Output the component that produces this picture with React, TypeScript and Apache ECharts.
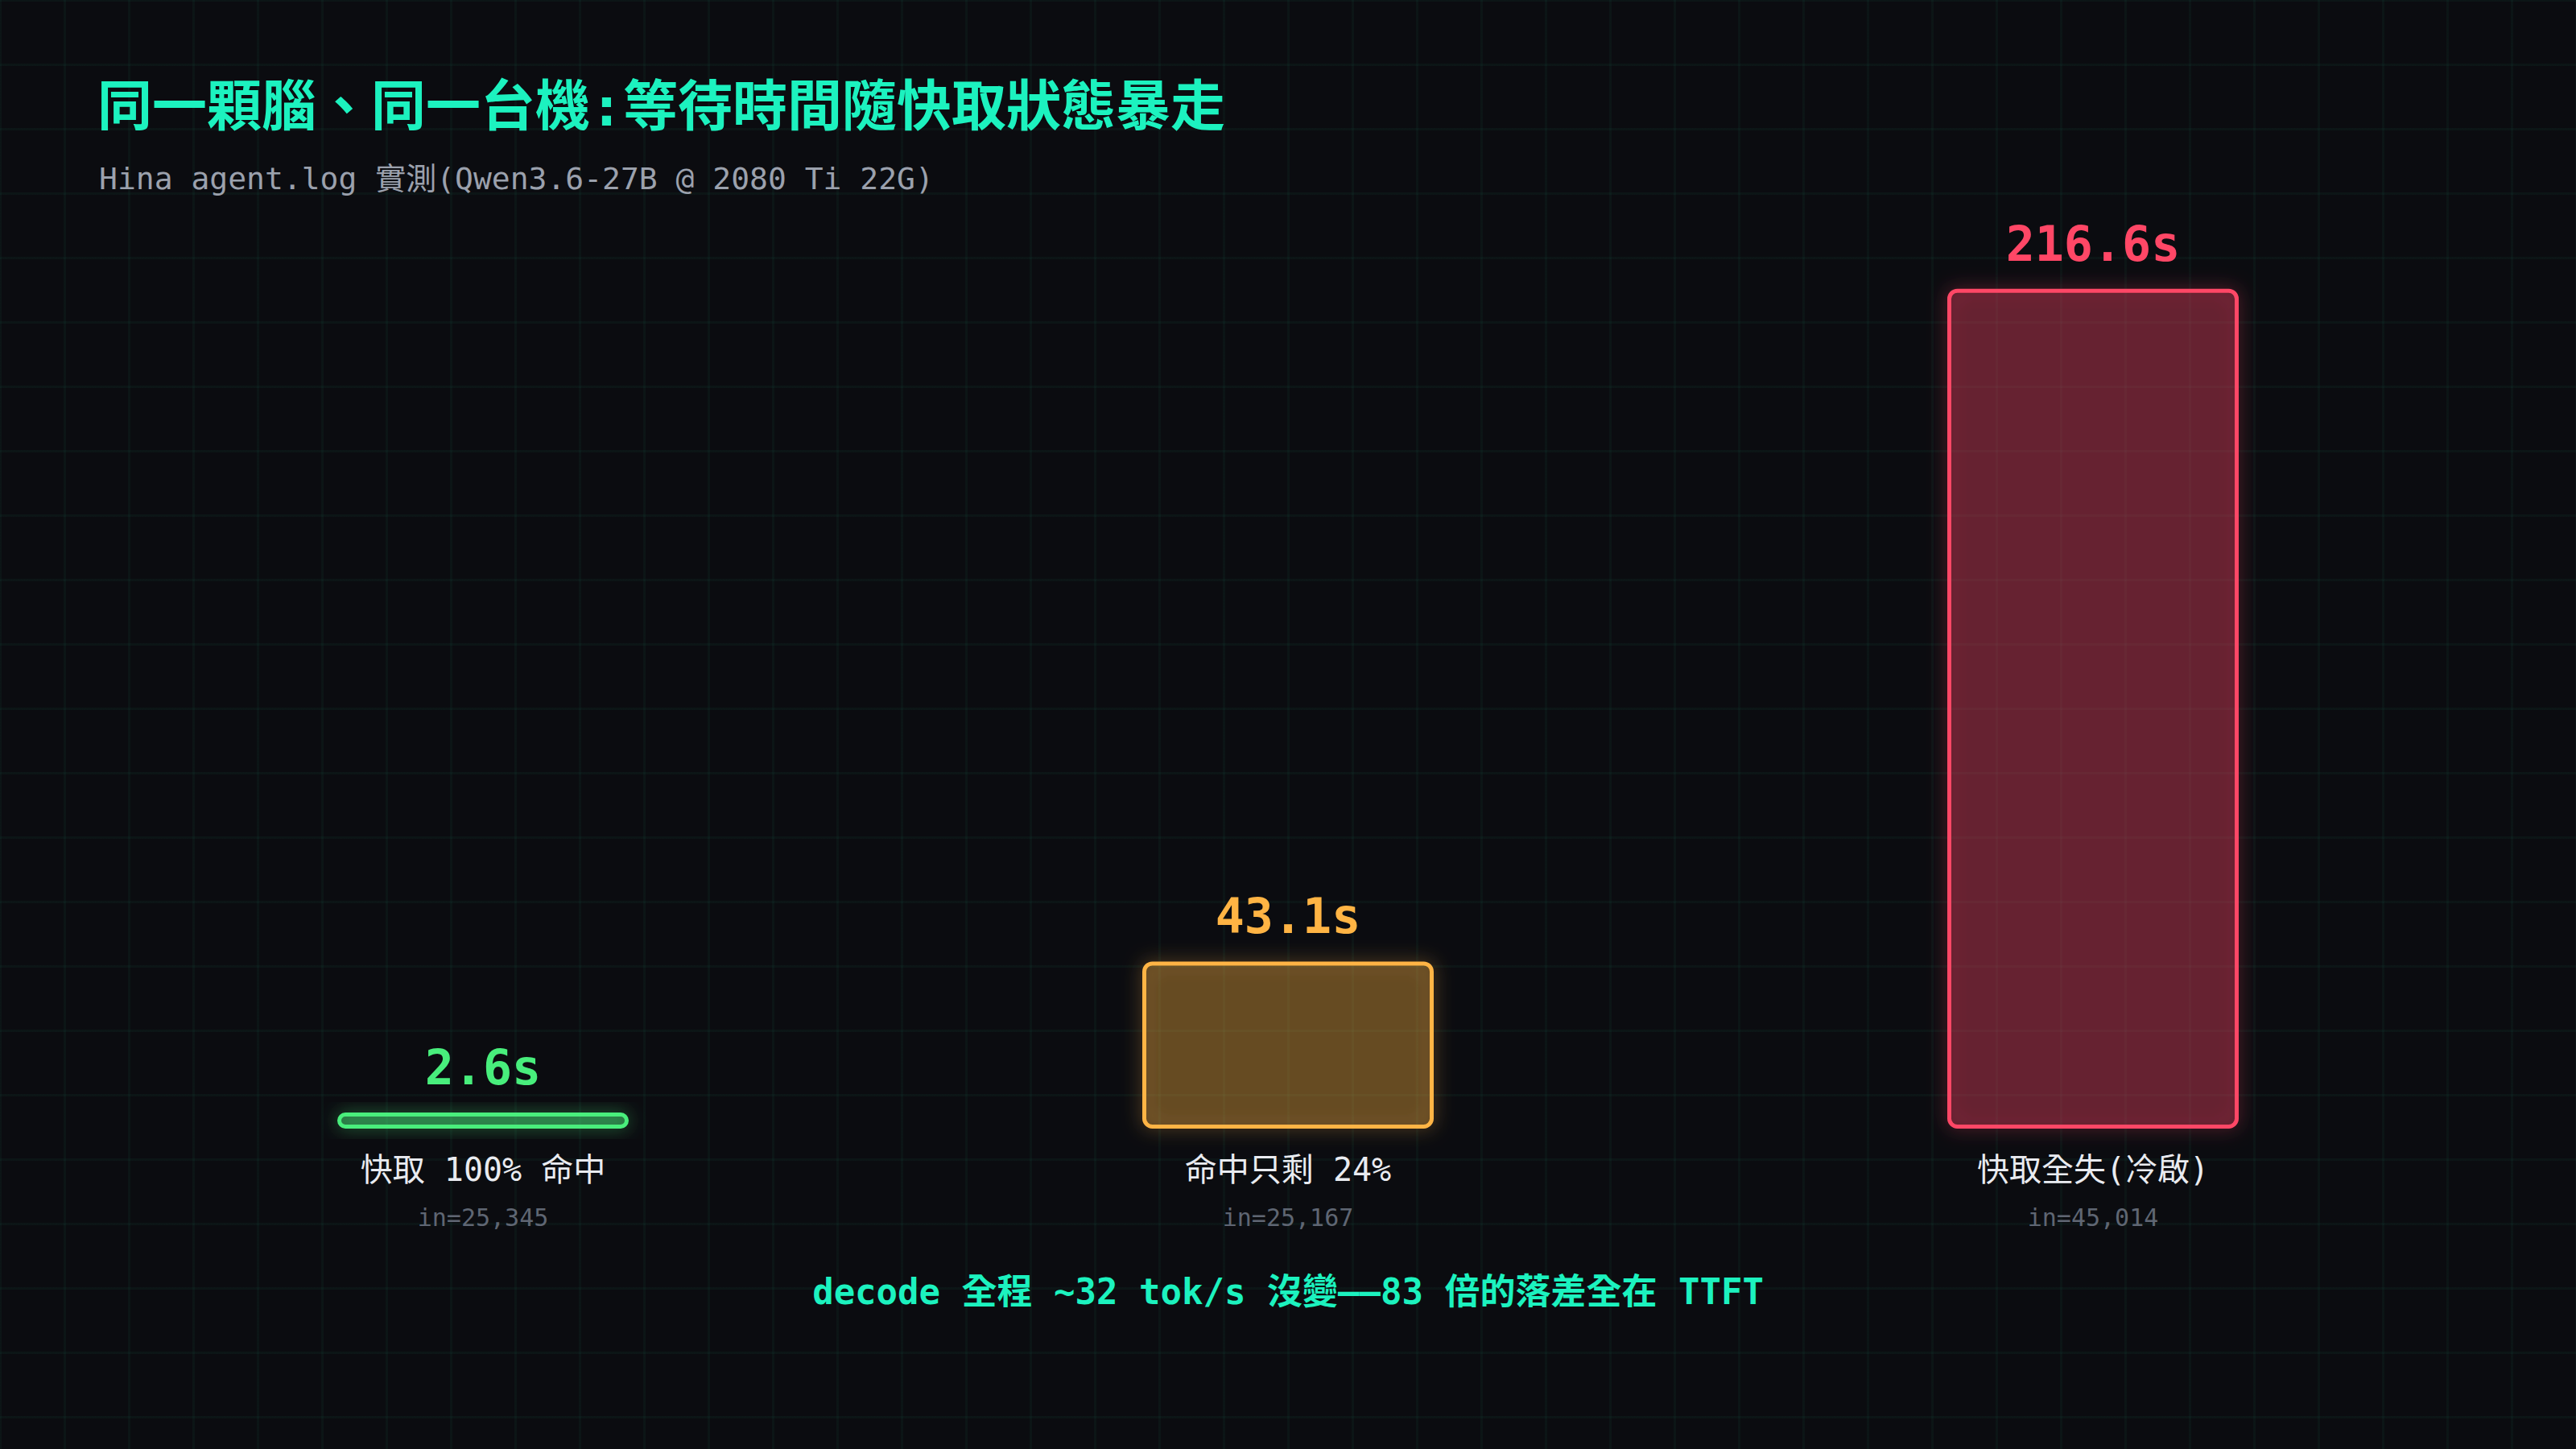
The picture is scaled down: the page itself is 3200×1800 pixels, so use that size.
import React, { useEffect, useRef } from 'react';
import * as echarts from 'echarts';

const categories = ['快取 100% 命中', '命中只剩 24%', '快取全失(冷啟)'];
const inputTokens = ['in=25,345', 'in=25,167', 'in=45,014'];
const ttftSeconds = [2.6, 43.1, 216.6];

const barColors = ['#48ee7c', '#ffb444', '#ff4766'];
const barFills = ['rgba(72,238,124,0.4)', 'rgba(255,180,68,0.27)', 'rgba(255,71,102,0.27)'];

const TITLE = '同一顆腦、同一台機:等待時間隨快取狀態暴走';
const SUBTITLE = 'Hina agent.log 實測(Qwen3.6-27B @ 2080 Ti 22G)';
const FOOTNOTE = 'decode 全程 ~32 tok/s 沒變——83 倍的落差全在 TTFT';

const FONT = '"DejaVu Sans Mono", "Noto Sans CJK TC", monospace';
const TEAL = '#1cf2bf';

const App: React.FC = () => {
  const chartRef = useRef<HTMLDivElement>(null);

  useEffect(() => {
    if (!chartRef.current) return;
    const chart = echarts.init(chartRef.current, undefined, { renderer: 'svg' });
    chart.setOption({
      animation: false,
      backgroundColor: 'transparent',
      title: [
        {
          text: TITLE,
          left: 116,
          top: 93,
          textStyle: { fontFamily: FONT, fontSize: 68, fontWeight: 'bold', color: TEAL },
        },
        {
          text: SUBTITLE,
          left: 118,
          top: 198,
          textStyle: { fontFamily: FONT, fontSize: 38, fontWeight: 'normal', color: '#9ba1ad' },
        },
      ],
      grid: { left: 100, right: 100, top: 246, bottom: 398 },
      xAxis: {
        type: 'category',
        data: categories,
        axisLine: { show: false },
        axisTick: { show: false },
        splitLine: { show: false },
        axisLabel: {
          margin: 23,
          formatter: (v: string, i: number) => `{a|${v}}\n{b|${inputTokens[i]}}`,
          rich: {
            a: { fontFamily: FONT, fontSize: 40, lineHeight: 56, color: '#e9ebf0' },
            b: { fontFamily: FONT, fontSize: 30, lineHeight: 62, color: '#5f6673' },
          },
        },
      },
      yAxis: {
        type: 'value',
        min: 0,
        max: 240,
        show: false,
        splitLine: { show: false },
      },
      series: [
        {
          type: 'bar',
          barWidth: 362,
          barMinHeight: 20,
          data: ttftSeconds.map((v, i) => ({
            value: v,
            itemStyle: {
              color: barFills[i],
              borderColor: barColors[i],
              borderWidth: 5,
              borderRadius: 10,
              shadowBlur: 22,
              shadowColor: barColors[i] + '80',
            },
            label: { color: barColors[i] },
          })),
          label: {
            show: true,
            position: 'top',
            distance: 26,
            fontFamily: FONT,
            fontSize: 60,
            fontWeight: 'bold',
            formatter: (p: any) => `${p.value}s`,
          },
        },
      ],
      graphic: [
        {
          type: 'text',
          x: 1600,
          y: 1604,
          style: {
            text: FOOTNOTE,
            fill: TEAL,
            font: `bold 44px ${FONT}`,
            textAlign: 'center',
            textVerticalAlign: 'middle',
          },
        },
      ],
    });
    return () => chart.dispose();
  }, []);

  return (
    <div
      style={{
        position: 'absolute',
        left: 0,
        top: 0,
        width: 3200,
        height: 1800,
        backgroundColor: '#0b0c10',
        backgroundImage:
          'linear-gradient(rgba(30,233,182,0.04) 3px, transparent 3px), linear-gradient(90deg, rgba(30,233,182,0.04) 3px, transparent 3px)',
        backgroundSize: '80px 80px',
        backgroundPosition: '-1px -1px',
      }}
    >
      <div ref={chartRef} style={{ width: 3200, height: 1800 }} />
    </div>
  );
};

export default App;
